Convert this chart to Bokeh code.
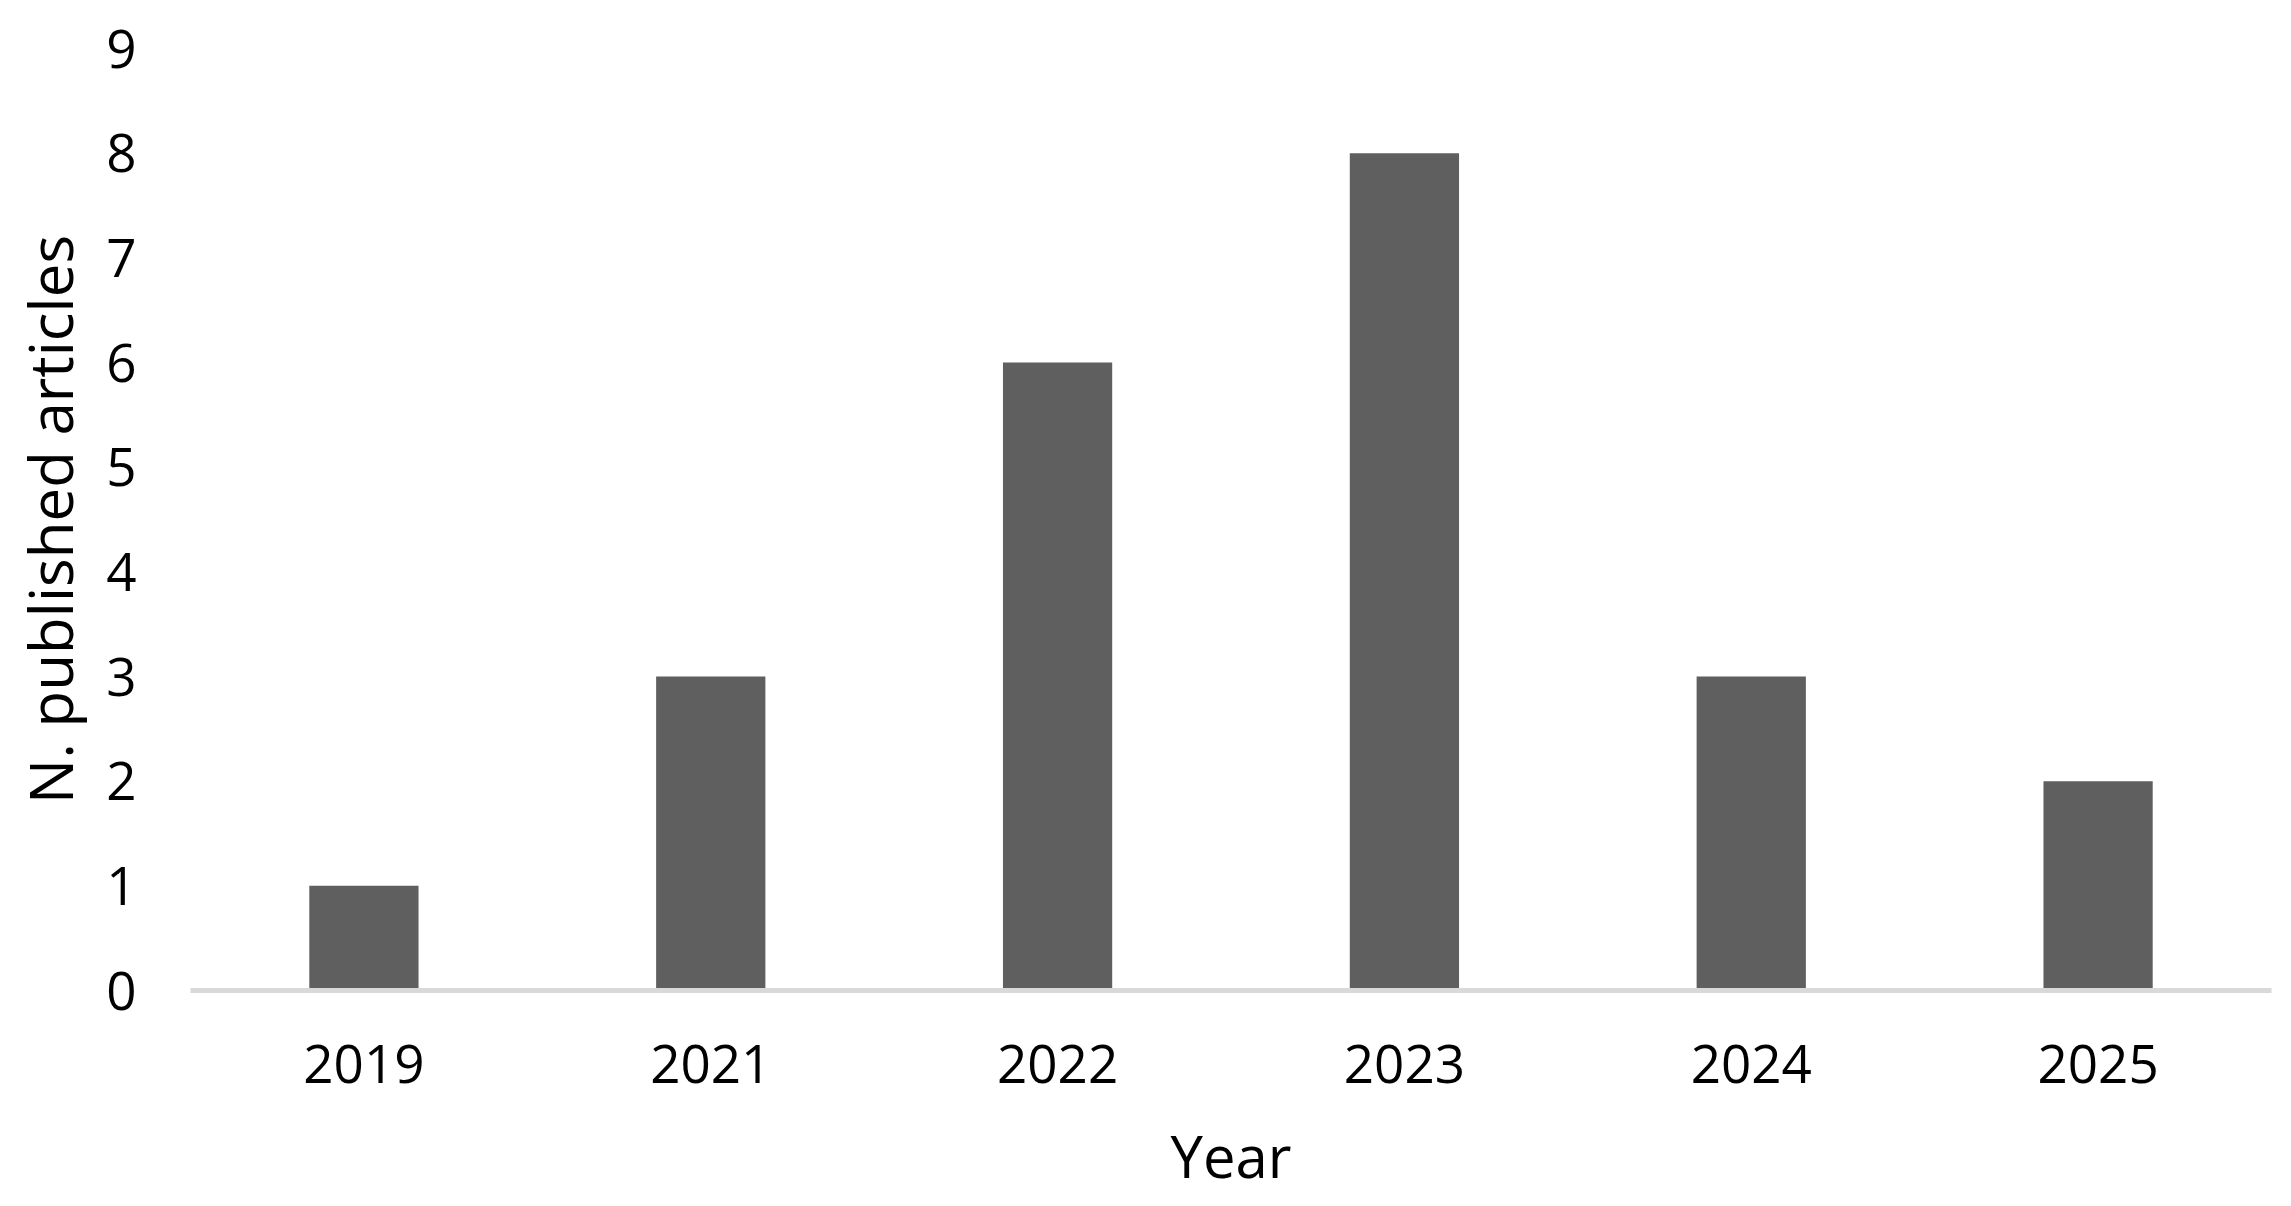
from bokeh.plotting import figure
from bokeh.models import FactorRange, Range1d, FixedTicker
from bokeh.embed import file_html
from bokeh.resources import INLINE

years = ["2019", "2021", "2022", "2023", "2024", "2025"]
articles = [1, 3, 6, 8, 3, 2]
y_ticks = [0, 1, 2, 3, 4, 5, 6, 7, 8, 9]
x_title = "Year"
y_title = "N. published articles"

FONT = "Open Sans"

p = figure(
    x_range=FactorRange(*years, range_padding=0),
    y_range=Range1d(0, 9),
    width=2275, height=1198,
    output_backend="svg", toolbar_location=None,
    min_border_left=190, min_border_right=4,
    min_border_top=48, min_border_bottom=208,
)
p.vbar(x=years, top=articles, width=0.315, fill_color="#5f5f5f", line_color=None)

p.outline_line_color = None
p.xgrid.grid_line_color = None
p.ygrid.grid_line_color = None

p.yaxis.ticker = FixedTicker(ticks=y_ticks)
p.yaxis.axis_line_color = None
p.yaxis.major_tick_line_color = None
p.yaxis.minor_tick_line_color = None
p.yaxis.major_tick_out = 0
p.yaxis.major_tick_in = 0
p.yaxis.major_label_standoff = 54
p.yaxis.axis_label = y_title
p.yaxis.axis_label_standoff = 12
p.yaxis.axis_label_text_font_size = "60px"

p.xaxis.axis_line_color = "#d9d9d9"
p.xaxis.axis_line_width = 5
p.xaxis.major_tick_line_color = None
p.xaxis.minor_tick_line_color = None
p.xaxis.major_tick_out = 0
p.xaxis.major_tick_in = 0
p.xaxis.major_label_standoff = 54
p.xaxis.axis_label = x_title
p.xaxis.axis_label_standoff = 30
p.xaxis.axis_label_text_font_size = "58px"

for ax in (p.xaxis, p.yaxis):
    ax.major_label_text_font = FONT
    ax.major_label_text_font_size = "53px"
    ax.major_label_text_color = "black"
    ax.axis_label_text_font = FONT
    ax.axis_label_text_font_style = "normal"
    ax.axis_label_text_color = "black"

open("out.html", "w").write(file_html(p, INLINE))
